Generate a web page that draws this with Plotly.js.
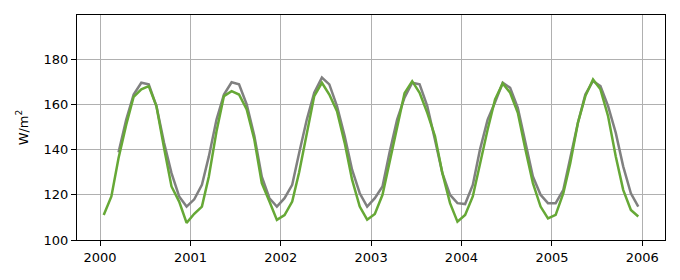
<!DOCTYPE html>
<html>
<head>
<meta charset="utf-8">
<script src="https://cdn.plot.ly/plotly-3.0.1.min.js"></script>
<style>html,body{margin:0;padding:0;background:#fff;}#chart{width:680px;height:280px;}</style>
</head>
<body>
<div id="chart"></div>
<script>
const years = [2000, 2001, 2002, 2003, 2004, 2005];
const months = ['01','02','03','04','05','06','07','08','09','10','11','12'];
const xTickVals = ['2000-01-01','2001-01-01','2002-01-01','2003-01-01','2004-01-01','2005-01-01','2006-01-01'];
const xTickText = ['2000','2001','2002','2003','2004','2005','2006'];
const yTickVals = [100, 120, 140, 160, 180];

const greySeries = [
  null, null, 138.8, 153.3, 164.4, 169.6, 168.9, 159.3, 143.0, 129.6, 119.3, 114.8,
  118.0, 124.4, 137.0, 153.3, 164.4, 169.8, 168.9, 160.0, 146.0, 128.0, 118.5, 114.8,
  118.5, 124.4, 138.5, 153.3, 165.2, 171.9, 168.9, 159.3, 146.0, 131.1, 120.7, 114.8,
  118.5, 123.7, 138.5, 153.3, 163.0, 169.6, 168.9, 159.3, 144.4, 129.6, 120.0, 116.3,
  115.9, 124.4, 140.0, 153.3, 161.0, 169.6, 167.4, 158.5, 143.0, 128.1, 120.0, 116.3,
  116.3, 122.2, 136.3, 151.9, 164.4, 170.4, 168.1, 159.3, 147.4, 132.6, 120.7, 114.8
];
const greenSeries = [
  111.1, 119.3, 136.3, 151.0, 163.4, 166.7, 168.1, 159.3, 140.7, 123.7, 117.0, 107.6,
  111.6, 114.8, 128.1, 148.1, 163.7, 165.9, 164.4, 157.8, 144.4, 125.2, 117.0, 108.9,
  111.0, 117.0, 130.0, 147.0, 163.7, 169.6, 164.4, 157.0, 143.0, 126.7, 114.8, 109.0,
  111.5, 120.0, 134.0, 151.0, 165.0, 170.3, 165.2, 156.3, 146.0, 129.6, 116.3, 108.1,
  111.1, 119.3, 134.0, 148.9, 162.2, 169.3, 165.2, 156.3, 140.0, 125.2, 114.8, 109.6,
  111.1, 120.7, 134.0, 151.9, 163.7, 171.1, 166.7, 154.8, 137.0, 122.2, 113.3, 110.4
];

const dates = [];
years.forEach(y => months.forEach(m => dates.push(y + '-' + m + '-16')));

const traces = [
  {x: dates, y: greySeries, type: 'scatter', mode: 'lines', line: {color: '#808080', width: 2.5}, connectgaps: false, hoverinfo: 'skip'},
  {x: dates, y: greenSeries, type: 'scatter', mode: 'lines', line: {color: '#66a836', width: 2.5}, hoverinfo: 'skip'}
];

const layout = {
  width: 680, height: 280,
  margin: {l: 77, r: 15, t: 15, b: 40},
  paper_bgcolor: '#ffffff', plot_bgcolor: '#ffffff',
  showlegend: false,
  font: {family: 'DejaVu Sans', size: 13, color: '#000'},
  xaxis: {
    type: 'date',
    range: ['1999-09-30', '2006-04-03'],
    tickvals: xTickVals, ticktext: xTickText,
    showgrid: true, gridcolor: '#b0b0b0', gridwidth: 1,
    showline: true, linecolor: '#000', linewidth: 1, mirror: true,
    ticks: 'outside', ticklen: 5, tickcolor: '#000',
    zeroline: false
  },
  yaxis: {
    range: [100, 199.6],
    tickvals: yTickVals,
    showgrid: true, gridcolor: '#b0b0b0', gridwidth: 1,
    showline: true, linecolor: '#000', linewidth: 1, mirror: true,
    ticks: 'outside', ticklen: 5, tickcolor: '#000',
    zeroline: false,
    title: {text: 'W/m<sup>2</sup>', font: {size: 13}, standoff: 12}
  }
};

Plotly.newPlot('chart', traces, layout, {staticPlot: true, displayModeBar: false});
</script>
</body>
</html>
